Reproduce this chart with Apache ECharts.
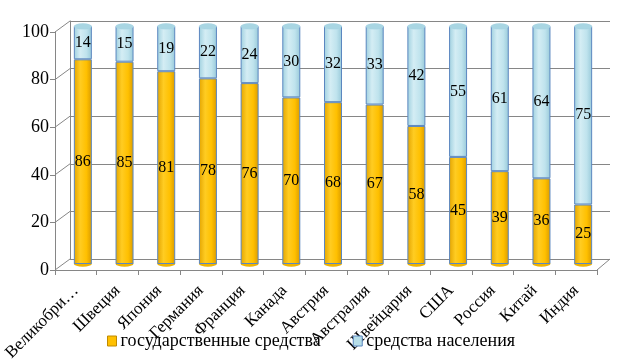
<!DOCTYPE html>
<html lang="ru">
<head>
<meta charset="UTF-8">
<script src="https://cdn.jsdelivr.net/npm/echarts@6/dist/echarts.min.js"></script>
<style>
  body { margin: 0; background: #fff; }
  #container { width: 624px; height: 360px; }
</style>
</head>
<body>
<div id="container"></div>
<script>
var countries = ['Великобритания', 'Швеция', 'Япония', 'Германия', 'Франция', 'Канада', 'Австрия',
  'Австралия', 'Швейцария', 'США', 'Россия', 'Китай', 'Индия'];
var govFunds = [86, 85, 81, 78, 76, 70, 68, 67, 58, 45, 39, 36, 25];
var popFunds = [14, 15, 19, 22, 24, 30, 32, 33, 42, 55, 61, 64, 75];
var yTicks = [0, 20, 40, 60, 80, 100];

var totals = govFunds.map(function (v, i) { return v + popFunds[i]; });
var serif = 'Liberation Serif';
var edge = '#5b87c0';
var gridColor = '#868686';

var orangeFill = new echarts.graphic.LinearGradient(0, 0, 1, 0, [
  { offset: 0, color: '#e3a400' },
  { offset: 0.35, color: '#ffcc22' },
  { offset: 0.7, color: '#ffc000' },
  { offset: 1, color: '#d99a00' }
]);
var blueFill = new echarts.graphic.LinearGradient(0, 0, 1, 0, [
  { offset: 0, color: '#9fd0df' },
  { offset: 0.35, color: '#d4edf4' },
  { offset: 0.7, color: '#bfe3ed' },
  { offset: 1, color: '#98c9d9' }
]);

var myChart = echarts.init(document.getElementById('container'));

var option = {
  animation: false,
  grid: [
    // задняя стенка
    { left: 70, right: 14, top: 21, bottom: 101, outerBoundsMode: 'none' },
    // столбики
    { left: 62, right: 20, top: 26, bottom: 96, outerBoundsMode: 'none' },
    // передние оси
    { left: 55, right: 27, top: 32, bottom: 90, outerBoundsMode: 'none' }
  ],
  xAxis: [
    { gridIndex: 0, type: 'category', data: countries, show: false },
    { gridIndex: 1, type: 'category', data: countries, show: false },
    {
      gridIndex: 2, type: 'category', data: countries,
      axisLine: { lineStyle: { color: gridColor } },
      axisTick: { show: true, length: 5, lineStyle: { color: gridColor } },
      axisLabel: {
        rotate: 45, color: '#000', fontFamily: serif, fontSize: 17, margin: 18,
        interval: 0,
        formatter: function (s) { return s.length > 10 ? s.slice(0, 9) + '…' : s; }
      }
    }
  ],
  yAxis: [
    {
      gridIndex: 0, type: 'value', min: 0, max: 100, interval: 20,
      axisLabel: { show: false }, axisTick: { show: false },
      axisLine: { show: true, lineStyle: { color: gridColor } },
      splitLine: { lineStyle: { color: gridColor } }
    },
    { gridIndex: 1, type: 'value', min: 0, max: 100, interval: 20, show: false },
    {
      gridIndex: 2, type: 'value', min: 0, max: 100, interval: 20,
      axisLine: { show: true, lineStyle: { color: gridColor } },
      axisTick: { show: true, length: 5, lineStyle: { color: gridColor } },
      splitLine: { show: false },
      axisLabel: { color: '#000', fontFamily: serif, fontSize: 18, margin: 6 }
    }
  ],
  legend: {
    bottom: 5, left: 102, itemGap: 32, itemWidth: 9, itemHeight: 10,
    textStyle: { fontFamily: serif, fontSize: 18, color: '#000', padding: [0, 0, 0, -1] },
    data: [
      { name: 'государственные средства', icon: 'rect', itemStyle: { color: '#ffc000', borderColor: '#c08a00', borderWidth: 1 } },
      { name: 'средства населения', icon: 'rect', itemStyle: { color: '#b7dee8', borderColor: edge, borderWidth: 1 } }
    ]
  },
  series: [
    {
      name: 'государственные средства', type: 'bar', stack: 'all',
      xAxisIndex: 1, yAxisIndex: 1, barWidth: 18, z: 2,
      data: govFunds,
      itemStyle: { color: orangeFill, borderColor: edge, borderWidth: 1 },
      label: { show: true, position: 'inside', color: '#000', fontFamily: serif, fontSize: 16 }
    },
    {
      name: 'средства населения', type: 'bar', stack: 'all',
      xAxisIndex: 1, yAxisIndex: 1, barWidth: 18, z: 2,
      data: popFunds,
      itemStyle: { color: blueFill, borderColor: edge, borderWidth: 1 },
      label: { show: true, position: 'inside', color: '#000', fontFamily: serif, fontSize: 16 }
    },
    {
      // верхний эллипс цилиндра
      type: 'pictorialBar', xAxisIndex: 1, yAxisIndex: 1, z: 3,
      data: totals, symbol: 'circle', symbolSize: [18, 6],
      symbolPosition: 'end', symbolOffset: [0, '-50%'],
      itemStyle: { color: '#a9d6e3', borderColor: edge, borderWidth: 1 },
      tooltip: { show: false }
    },
    {
      // нижний эллипс цилиндра
      type: 'pictorialBar', xAxisIndex: 1, yAxisIndex: 1, z: 1,
      data: govFunds, symbol: 'circle', symbolSize: [18, 6],
      symbolPosition: 'start', symbolOffset: [0, '50%'],
      itemStyle: { color: '#f0b400', borderColor: edge, borderWidth: 1 },
      tooltip: { show: false }
    }
  ]
};

myChart.setOption(option);

// диагональные линии объёмной рамки
var lines = [];
yTicks.forEach(function (v) {
  var fy = myChart.convertToPixel({ yAxisIndex: 2 }, v);
  var by = myChart.convertToPixel({ yAxisIndex: 0 }, v);
  lines.push({
    type: 'line', z: 0, silent: true,
    shape: { x1: 55, y1: fy, x2: 70, y2: by },
    style: { stroke: gridColor, lineWidth: 1 }
  });
});
var fy0 = myChart.convertToPixel({ yAxisIndex: 2 }, 0);
var by0 = myChart.convertToPixel({ yAxisIndex: 0 }, 0);
lines.push({
  type: 'line', z: 0, silent: true,
  shape: { x1: 624 - 27, y1: fy0, x2: 624 - 14, y2: by0 },
  style: { stroke: gridColor, lineWidth: 1 }
});
myChart.setOption({ graphic: lines });
</script>
</body>
</html>
